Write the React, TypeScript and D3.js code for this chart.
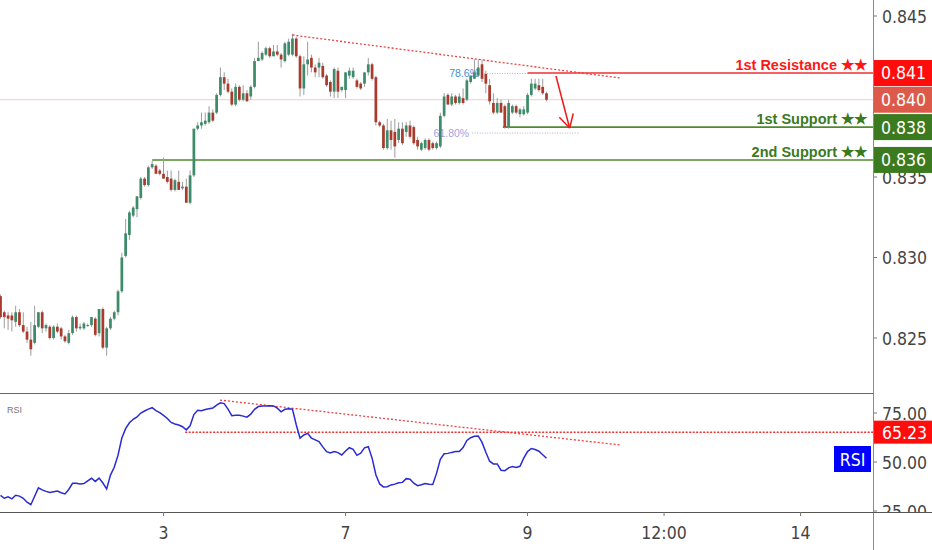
import React, { useRef, useEffect } from 'react';
import * as d3 from 'd3';

// hourly candles, first candle = hour 0
const opens = [
  0.8276, 0.8266, 0.8264, 0.8264, 0.8260, 0.8266, 0.8258, 0.8254, 0.8249, 0.8247,
  0.8257, 0.8266, 0.8256, 0.8257, 0.8250, 0.8257, 0.8256, 0.8251, 0.8247, 0.8253,
  0.8263, 0.8256, 0.8256, 0.8258, 0.8258, 0.8262, 0.8253, 0.8268, 0.8244, 0.8256,
  0.8262, 0.8266, 0.8279, 0.8301, 0.8314, 0.8326, 0.8330, 0.8337, 0.8349, 0.8345,
  0.8356, 0.8357, 0.8354, 0.8352, 0.8350, 0.8349, 0.8342, 0.8347, 0.8343, 0.8344,
  0.8334, 0.8351, 0.8380, 0.8382, 0.8383, 0.8384, 0.8390, 0.8390, 0.8401, 0.8412,
  0.8408, 0.8403, 0.8395, 0.8406, 0.8398, 0.8402, 0.8400, 0.8406, 0.8422, 0.8423,
  0.8426, 0.8430, 0.8425, 0.8428, 0.8426, 0.8422, 0.8426, 0.8426, 0.8436, 0.8425,
  0.8405, 0.8420, 0.8424, 0.8418, 0.8418, 0.8419, 0.8413, 0.8409, 0.8403, 0.8416,
  0.8404, 0.8404, 0.8413, 0.8412, 0.8410, 0.8408, 0.8408, 0.8415, 0.8420, 0.8412,
  0.8384, 0.8382, 0.8368, 0.8379, 0.8378, 0.8373, 0.8380, 0.8378, 0.8382, 0.8381,
  0.8373, 0.8367, 0.8368, 0.8373, 0.8371, 0.8368, 0.8369, 0.8388, 0.8401, 0.8395,
  0.8400, 0.8396, 0.8399, 0.8398, 0.8409, 0.8411, 0.8413, 0.8420, 0.8414, 0.8407,
  0.8396, 0.8390, 0.8396, 0.8394, 0.8381, 0.8390, 0.8394, 0.8389, 0.8389, 0.8390,
  0.8401, 0.8405, 0.8407, 0.8406, 0.8402,
];
const highs = [
  0.8277, 0.8267, 0.8266, 0.8266, 0.8270, 0.8268, 0.8266, 0.8257, 0.8260, 0.8270,
  0.8266, 0.8267, 0.8259, 0.8258, 0.8258, 0.8259, 0.8257, 0.8252, 0.8255, 0.8264,
  0.8264, 0.8259, 0.8260, 0.8259, 0.8263, 0.8263, 0.8268, 0.8269, 0.8257, 0.8263,
  0.8267, 0.8280, 0.8303, 0.8324, 0.8329, 0.8332, 0.8338, 0.8350, 0.8350, 0.8357,
  0.8360, 0.8358, 0.8355, 0.8362, 0.8354, 0.8354, 0.8349, 0.8354, 0.8347, 0.8349,
  0.8354, 0.8380, 0.8384, 0.8390, 0.8390, 0.8394, 0.8392, 0.8402, 0.8418, 0.8415,
  0.8411, 0.8405, 0.8408, 0.8407, 0.8407, 0.8404, 0.8407, 0.8424, 0.8434, 0.8428,
  0.8431, 0.8431, 0.8432, 0.8432, 0.8427, 0.8434, 0.8436, 0.8439, 0.8437, 0.8426,
  0.8425, 0.8434, 0.8426, 0.8420, 0.8424, 0.8421, 0.8414, 0.8410, 0.8418, 0.8418,
  0.8406, 0.8415, 0.8418, 0.8418, 0.8411, 0.8409, 0.8415, 0.8424, 0.8421, 0.8413,
  0.8385, 0.8383, 0.8386, 0.8385, 0.8386, 0.8384, 0.8384, 0.8384, 0.8385, 0.8382,
  0.8375, 0.8372, 0.8374, 0.8374, 0.8372, 0.8372, 0.8390, 0.8402, 0.8402, 0.8402,
  0.8401, 0.8402, 0.8405, 0.8411, 0.8413, 0.8423, 0.8423, 0.8423, 0.8416, 0.8411,
  0.8402, 0.8399, 0.8398, 0.8395, 0.8398, 0.8395, 0.8395, 0.8393, 0.8394, 0.8402,
  0.8411, 0.8411, 0.8411, 0.8411, 0.8403,
];
const lows = [
  0.8262, 0.8256, 0.8255, 0.8254, 0.8257, 0.8257, 0.8253, 0.8247, 0.8239, 0.8246,
  0.8256, 0.8253, 0.8254, 0.8249, 0.8249, 0.8253, 0.8249, 0.8247, 0.8246, 0.8252,
  0.8254, 0.8255, 0.8255, 0.8257, 0.8257, 0.8251, 0.8251, 0.8243, 0.8239, 0.8255,
  0.8261, 0.8264, 0.8278, 0.8300, 0.8311, 0.8325, 0.8325, 0.8336, 0.8344, 0.8344,
  0.8355, 0.8352, 0.8351, 0.8349, 0.8346, 0.8341, 0.8341, 0.8342, 0.8342, 0.8334,
  0.8333, 0.8350, 0.8379, 0.8380, 0.8382, 0.8383, 0.8384, 0.8389, 0.8400, 0.8404,
  0.8402, 0.8394, 0.8394, 0.8397, 0.8397, 0.8397, 0.8398, 0.8405, 0.8422, 0.8422,
  0.8425, 0.8424, 0.8425, 0.8425, 0.8418, 0.8421, 0.8425, 0.8425, 0.8424, 0.8400,
  0.8401, 0.8413, 0.8415, 0.8412, 0.8412, 0.8411, 0.8406, 0.8400, 0.8399, 0.8399,
  0.8403, 0.8399, 0.8411, 0.8411, 0.8405, 0.8404, 0.8406, 0.8413, 0.8410, 0.8382,
  0.8381, 0.8367, 0.8367, 0.8367, 0.8362, 0.8371, 0.8370, 0.8375, 0.8374, 0.8370,
  0.8367, 0.8366, 0.8367, 0.8366, 0.8367, 0.8367, 0.8368, 0.8387, 0.8395, 0.8394,
  0.8395, 0.8395, 0.8395, 0.8397, 0.8408, 0.8411, 0.8412, 0.8409, 0.8402, 0.8395,
  0.8389, 0.8389, 0.8390, 0.8380, 0.8380, 0.8389, 0.8389, 0.8387, 0.8388, 0.8389,
  0.8400, 0.8404, 0.8403, 0.8401, 0.8397,
];
const closes = [
  0.8263, 0.8263, 0.8262, 0.8261, 0.8266, 0.8258, 0.8254, 0.8249, 0.8243, 0.8258,
  0.8266, 0.8256, 0.8258, 0.8250, 0.8257, 0.8254, 0.8251, 0.8248, 0.8253, 0.8263,
  0.8256, 0.8257, 0.8259, 0.8258, 0.8263, 0.8252, 0.8268, 0.8244, 0.8256, 0.8262,
  0.8266, 0.8279, 0.8300, 0.8315, 0.8328, 0.8331, 0.8338, 0.8349, 0.8345, 0.8356,
  0.8358, 0.8352, 0.8352, 0.8349, 0.8347, 0.8342, 0.8348, 0.8342, 0.8344, 0.8334,
  0.8351, 0.8380, 0.8382, 0.8384, 0.8385, 0.8390, 0.8385, 0.8401, 0.8412, 0.8408,
  0.8403, 0.8395, 0.8406, 0.8398, 0.8402, 0.8397, 0.8406, 0.8422, 0.8424, 0.8427,
  0.8430, 0.8425, 0.8428, 0.8426, 0.8423, 0.8433, 0.8434, 0.8436, 0.8425, 0.8405,
  0.8420, 0.8423, 0.8418, 0.8415, 0.8421, 0.8412, 0.8407, 0.8403, 0.8417, 0.8403,
  0.8406, 0.8415, 0.8416, 0.8416, 0.8406, 0.8405, 0.8415, 0.8420, 0.8411, 0.8384,
  0.8382, 0.8368, 0.8379, 0.8373, 0.8369, 0.8380, 0.8371, 0.8382, 0.8375, 0.8371,
  0.8369, 0.8371, 0.8373, 0.8367, 0.8368, 0.8371, 0.8388, 0.8400, 0.8395, 0.8400,
  0.8396, 0.8400, 0.8396, 0.8410, 0.8413, 0.8415, 0.8418, 0.8411, 0.8408, 0.8397,
  0.8390, 0.8396, 0.8390, 0.8381, 0.8396, 0.8394, 0.8390, 0.8392, 0.8392, 0.8401,
  0.8408, 0.8408, 0.8404, 0.8402, 0.8398,
];
const rsiValues = [
  33, 31.5, 32.2, 31.2, 33, 32.6, 31.5, 29.5, 28.2, 32.5,
  36.8, 35.8, 35, 34.4, 34.8, 35.2, 34.3, 33.7, 36, 39.1,
  39.1, 38.8, 39, 40.4, 41.7, 40.1, 41.8, 39.3, 36.3, 43.3,
  47.3, 53.5, 62.2, 67, 70, 71.8, 73, 75, 76, 77,
  77.7, 76.2, 75.2, 73.8, 72.2, 70.2, 69.4, 68.9, 68, 66.4,
  68.5, 74.2, 76.4, 76.2, 76.8, 77.2, 77.5, 79, 80.2, 79.8,
  77, 73.6, 73.9, 73.8, 73.4, 72.9, 74.4, 76.9, 78.3, 78.6,
  78.6, 78.7, 78.6, 77.5, 75.6, 76.9, 77.2, 77, 69, 62.2,
  63.8, 64.6, 62.2, 61.3, 60.4, 57.7, 55.3, 54.6, 55.3, 54.8,
  53.6, 55.6, 57.3, 56.5, 53.4, 54.5, 57.2, 57.8, 52, 43.5,
  38.8, 37.3, 37.4, 38.3, 38.7, 39.4, 39.6, 41.5, 41.2, 39.2,
  37.9, 38.4, 39, 38.6, 38.5, 44.2, 51.4, 54.2, 54.4, 54.9,
  55.3, 55.3, 57.4, 61, 62.4, 63.1, 63.3, 60, 55, 50.4,
  49, 49, 45.8, 45.6, 47, 47.7, 47.2, 47.8, 52, 55.3,
  56.9, 56.4, 55.5, 53.7, 51.9,
];

const xTickHours = [43, 91, 139, 175, 211];
const xTickLabels = ['3', '7', '9', '12:00', '14'];
const priceTicks = [0.845, 0.84, 0.835, 0.83, 0.825];
const rsiTicks = [75, 50, 25];

const levelNames = ['1st Resistance ★★', '1st Support ★★', '2nd Support ★★'];
const levelPrices = [0.84146, 0.8381, 0.83606];
const levelStarts = [139, 132.5, 40];
const levelBoxes = ['0.841', '0.838', '0.836'];
const lastPrice = 0.8398;

const priceTrend: [number, number][] = [[77, 0.84382], [163.4, 0.84115]];
const rsiTrend: [number, number][] = [[57.9, 81.6], [163.4, 58.7]];
const rsiLevel = 65.23;
const rsiLevelStart = 48.7;
const fibLabels = ['78.6%', '61.80%'];
const fibPrices = [0.84143, 0.83773];
const fibRanges: [number, number][] = [[127, 139], [124.4, 152.8]];
const arrowPath: [number, number][] = [[146.5, 0.84127], [150.1, 0.83804]];

const W = 932;
const H = 550;
const AXIS_X = 873;
const PANE_BOTTOM = 393;
const RSI_BOTTOM = 512;
const GREEN = '#3e8b6b';
const RED = '#a83b2e';
const LVL_RED = '#ff1616';
const LVL_GREEN = '#3b7a1e';
const FONT = '"Liberation Sans", Arial, sans-serif';
const AXIS_FONT = '"Liberation Sans Narrow", "Arial Narrow", "DejaVu Sans Condensed", sans-serif';
const AXIS_SIZE = 17.5;

const App: React.FC = () => {
  const svgRef = useRef<SVGSVGElement | null>(null);

  useEffect(() => {
    if (!svgRef.current) return;
    const svg = d3.select(svgRef.current);
    svg.selectAll('*').remove();

    const x = d3.scaleLinear().domain([0, 144]).range([0.5, 546.5]);
    const y = d3.scaleLinear().domain([0.825, 0.845]).range([338, 16]);
    const yr = d3.scaleLinear().domain([25, 75]).range([511, 413]);
    const step = x(1) - x(0);

    const defs = svg.append('defs');
    defs.append('clipPath').attr('id', 'mainClip')
      .append('rect').attr('x', 0).attr('y', 0).attr('width', AXIS_X).attr('height', PANE_BOTTOM);
    defs.append('clipPath').attr('id', 'rsiClip')
      .append('rect').attr('x', 0).attr('y', PANE_BOTTOM).attr('width', W).attr('height', RSI_BOTTOM - PANE_BOTTOM);

    svg.append('rect').attr('width', W).attr('height', H).attr('fill', '#fff');

    // ---------- price pane ----------
    const main = svg.append('g').attr('clip-path', 'url(#mainClip)');

    // last price line
    main.append('line')
      .attr('x1', 0).attr('x2', AXIS_X)
      .attr('y1', y(lastPrice)).attr('y2', y(lastPrice))
      .attr('stroke', '#f6c8c8').attr('stroke-width', 1);

    // fib levels
    fibLabels.forEach((lab, i) => {
      const yy = y(fibPrices[i]);
      main.append('line')
        .attr('x1', x(fibRanges[i][0])).attr('x2', x(fibRanges[i][1]))
        .attr('y1', yy).attr('y2', yy)
        .attr('stroke', '#a9b4c8').attr('stroke-width', 1).attr('stroke-dasharray', '1,1.5');
      main.append('text')
        .attr('x', x(fibRanges[i][0]) - 3).attr('y', yy + 4)
        .attr('text-anchor', 'end')
        .attr('font-family', FONT).attr('font-size', 10.5)
        .attr('fill', i === 0 ? '#3f8ed8' : '#a3a3df')
        .text(lab);
    });

    // support / resistance lines
    levelNames.forEach((name, i) => {
      const yy = y(levelPrices[i]);
      const col = i === 0 ? LVL_RED : LVL_GREEN;
      main.append('line')
        .attr('x1', x(levelStarts[i])).attr('x2', AXIS_X)
        .attr('y1', yy).attr('y2', yy)
        .attr('stroke', i === 0 ? '#f03030' : '#4f8a2e').attr('stroke-width', 1.6);
      main.append('text')
        .attr('x', 867).attr('y', yy - 3)
        .attr('text-anchor', 'end')
        .attr('font-family', FONT).attr('font-weight', 'bold').attr('font-size', 14.5)
        .attr('fill', col)
        .text(name);
    });

    // candles
    const idx = d3.range(opens.length);
    main.selectAll('line.wick').data(idx).enter().append('line')
      .attr('class', 'wick')
      .attr('x1', i => x(i)).attr('x2', i => x(i))
      .attr('y1', i => y(highs[i])).attr('y2', i => y(lows[i]))
      .attr('stroke', '#9c9c9c').attr('stroke-width', 1);
    main.selectAll('rect.body').data(idx).enter().append('rect')
      .attr('class', 'body')
      .attr('x', i => x(i) - step * 0.36)
      .attr('width', step * 0.72)
      .attr('y', i => y(Math.max(opens[i], closes[i])))
      .attr('height', i => Math.max(1, Math.abs(y(opens[i]) - y(closes[i]))))
      .attr('fill', i => (closes[i] >= opens[i] ? GREEN : RED));

    // trend line
    main.append('line')
      .attr('x1', x(priceTrend[0][0])).attr('y1', y(priceTrend[0][1]))
      .attr('x2', x(priceTrend[1][0])).attr('y2', y(priceTrend[1][1]))
      .attr('stroke', '#f04040').attr('stroke-width', 1.3).attr('stroke-dasharray', '2,2');

    // arrow
    const ax1 = x(arrowPath[0][0]), ay1 = y(arrowPath[0][1]);
    const ax2 = x(arrowPath[1][0]), ay2 = y(arrowPath[1][1]);
    const ang = Math.atan2(ay2 - ay1, ax2 - ax1);
    main.append('line')
      .attr('x1', ax1).attr('y1', ay1).attr('x2', ax2).attr('y2', ay2)
      .attr('stroke', '#f01818').attr('stroke-width', 1.5);
    [-0.5, 0.5].forEach(d => {
      main.append('line')
        .attr('x1', ax2).attr('y1', ay2)
        .attr('x2', ax2 - 15 * Math.cos(ang + d)).attr('y2', ay2 - 15 * Math.sin(ang + d))
        .attr('stroke', '#f01818').attr('stroke-width', 1.5);
    });

    // ---------- RSI pane ----------
    const rsiG = svg.append('g').attr('clip-path', 'url(#rsiClip)');
    rsiG.append('line')
      .attr('x1', x(rsiLevelStart)).attr('x2', AXIS_X)
      .attr('y1', yr(rsiLevel)).attr('y2', yr(rsiLevel))
      .attr('stroke', '#f03030').attr('stroke-width', 1.5).attr('stroke-dasharray', '2,1.5');
    rsiG.append('line')
      .attr('x1', x(rsiTrend[0][0])).attr('y1', yr(rsiTrend[0][1]))
      .attr('x2', x(rsiTrend[1][0])).attr('y2', yr(rsiTrend[1][1]))
      .attr('stroke', '#f04040').attr('stroke-width', 1.3).attr('stroke-dasharray', '2,2');
    const rsiLine = d3.line<number>().x((_, i) => x(i)).y(d => yr(d));
    rsiG.append('path')
      .attr('d', rsiLine(rsiValues) || '')
      .attr('fill', 'none').attr('stroke', '#2a2ad2').attr('stroke-width', 1.5);
    rsiG.append('text')
      .attr('x', 7).attr('y', 413)
      .attr('font-family', FONT).attr('font-size', 9).attr('fill', '#777')
      .text('RSI');

    // RSI axis labels
    rsiTicks.forEach(t => {
      rsiG.append('line')
        .attr('x1', AXIS_X).attr('x2', AXIS_X + 4)
        .attr('y1', yr(t)).attr('y2', yr(t))
        .attr('stroke', '#777');
      rsiG.append('text')
        .attr('x', 882).attr('y', yr(t) + 6.5)
        .attr('font-family', AXIS_FONT).attr('font-size', AXIS_SIZE).attr('fill', '#444')
        .text(t.toFixed(2));
    });
    rsiG.append('rect')
      .attr('x', AXIS_X).attr('y', yr(rsiLevel) - 11.5).attr('width', W - AXIS_X).attr('height', 23)
      .attr('fill', '#ff0d0d');
    rsiG.append('text')
      .attr('x', 882).attr('y', yr(rsiLevel) + 6.5)
      .attr('font-family', AXIS_FONT).attr('font-size', AXIS_SIZE).attr('fill', '#fff')
      .text(rsiLevel.toFixed(2));
    svg.append('rect')
      .attr('x', 834).attr('y', 446).attr('width', 37).attr('height', 26)
      .attr('fill', '#0000ff');
    svg.append('text')
      .attr('x', 852.5).attr('y', 465.5).attr('text-anchor', 'middle')
      .attr('font-family', AXIS_FONT).attr('font-size', AXIS_SIZE).attr('fill', '#fff')
      .text('RSI');

    // ---------- price axis ----------
    const boxes = [
      { text: levelBoxes[0], price: levelPrices[0], fill: '#ff0d0d' },
      { text: d3.format('.3f')(lastPrice), price: lastPrice, fill: '#dd5a4a' },
      { text: levelBoxes[1], price: levelPrices[1], fill: LVL_GREEN },
      { text: levelBoxes[2], price: levelPrices[2], fill: LVL_GREEN },
    ];
    priceTicks.forEach(t => {
      svg.append('line')
        .attr('x1', AXIS_X).attr('x2', AXIS_X + 4)
        .attr('y1', y(t)).attr('y2', y(t))
        .attr('stroke', '#777');
      // a tick label sitting right under a price box is hidden by it
      if (boxes.some(b => Math.abs(y(b.price) - y(t)) < 8)) return;
      svg.append('text')
        .attr('x', 882).attr('y', y(t) + 6.5)
        .attr('font-family', AXIS_FONT).attr('font-size', AXIS_SIZE).attr('fill', '#444')
        .text(t.toFixed(3));
    });
    boxes.forEach(b => {
      const yy = y(b.price);
      svg.append('rect')
        .attr('x', AXIS_X).attr('y', yy - 13).attr('width', W - AXIS_X).attr('height', 26)
        .attr('fill', b.fill);
      svg.append('text')
        .attr('x', 881).attr('y', yy + 6.5)
        .attr('font-family', AXIS_FONT).attr('font-size', AXIS_SIZE).attr('fill', '#fff')
        .text(b.text);
    });

    // ---------- frame ----------
    svg.append('line')
      .attr('x1', AXIS_X + 0.5).attr('x2', AXIS_X + 0.5).attr('y1', 0).attr('y2', H)
      .attr('stroke', '#8a8a8a');
    svg.append('line')
      .attr('x1', 0).attr('x2', AXIS_X).attr('y1', PANE_BOTTOM + 0.5).attr('y2', PANE_BOTTOM + 0.5)
      .attr('stroke', '#666');
    svg.append('line')
      .attr('x1', 0).attr('x2', W).attr('y1', RSI_BOTTOM + 0.5).attr('y2', RSI_BOTTOM + 0.5)
      .attr('stroke', '#555');

    // ---------- time axis ----------
    xTickHours.forEach((h, i) => {
      svg.append('line')
        .attr('x1', x(h)).attr('x2', x(h))
        .attr('y1', RSI_BOTTOM).attr('y2', RSI_BOTTOM + 4)
        .attr('stroke', '#777');
      svg.append('text')
        .attr('x', x(h)).attr('y', 539)
        .attr('text-anchor', 'middle')
        .attr('font-family', AXIS_FONT).attr('font-size', AXIS_SIZE).attr('fill', '#444')
        .text(xTickLabels[i]);
    });
  }, []);

  return (
    <svg
      ref={svgRef}
      width={W}
      height={H}
      style={{ position: 'absolute', left: 0, top: 0, display: 'block' }}
    />
  );
};

export default App;
